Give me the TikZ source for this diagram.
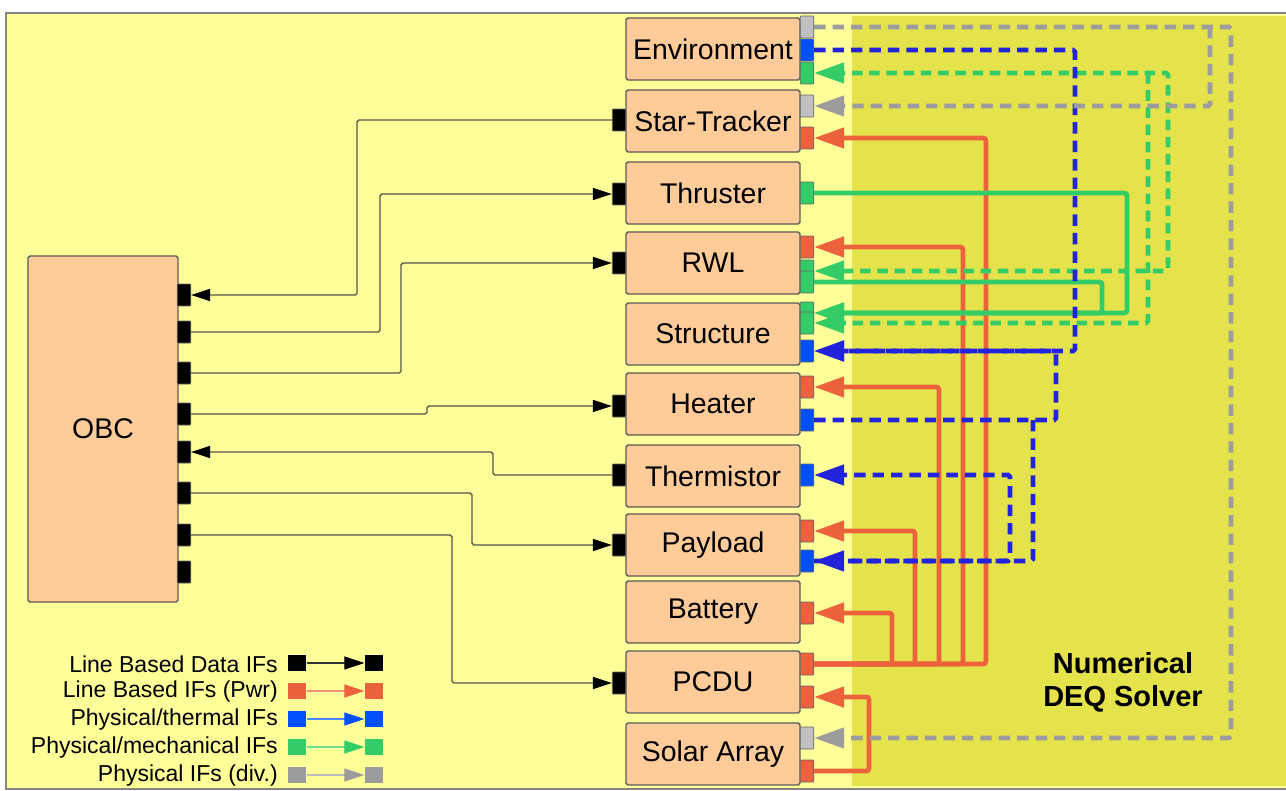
\documentclass[tikz,border=0pt]{standalone}
\usepackage{fontspec}
\setmainfont{Liberation Sans}
\usetikzlibrary{arrows.meta}
\definecolor{yelL}{HTML}{FFFF99}
\definecolor{yelD}{HTML}{E5E34B}
\definecolor{peach}{HTML}{FFCC99}
\definecolor{pwrc}{HTML}{EB623C}
\definecolor{thmc}{HTML}{2323DC}
\definecolor{thmp}{HTML}{0050FF}
\definecolor{mecc}{HTML}{33CC66}
\definecolor{divc}{HTML}{9C9C9C}
\definecolor{divp}{HTML}{C0C0C0}
\definecolor{datc}{HTML}{555548}
\definecolor{framec}{HTML}{858585}

\begin{document}
\begin{tikzpicture}[
  x=0.02cm, y=-0.02cm,
  font=\fontsize{16.2}{19}\selectfont,
  bx/.style  ={draw=black!65, fill=peach, line width=0.8pt, rounded corners=1pt,
               minimum width=3.48cm, minimum height=1.24cm, inner sep=0pt},
  prt/.style ={draw=black!60, line width=0.4pt, inner sep=0pt, rounded corners=0.5pt,
               minimum width=0.27cm, minimum height=0.44cm},
  pdt/.style ={prt, fill=black},
  ppw/.style ={prt, fill=pwrc},
  pth/.style ={prt, fill=thmp},
  pme/.style ={prt, fill=mecc},
  pdv/.style ={prt, fill=divp},
  bigtip/.tip={Triangle[length=6mm, width=4mm]},
  dat/.style ={datc, line width=0.8pt, rounded corners=1pt,
               -{Triangle[length=3.8mm, width=2.4mm, color=black]}},
  pw/.style  ={pwrc, line width=2.7pt, rounded corners=1.5pt, -bigtip},
  me/.style  ={mecc, line width=2.7pt, rounded corners=1.5pt, -bigtip},
  med/.style ={mecc, line width=2.6pt, rounded corners=1pt, dash pattern=on 6pt off 3.8pt, -bigtip},
  th/.style  ={thmc, line width=2.6pt, rounded corners=1pt, dash pattern=on 6.5pt off 4pt, -bigtip},
  dv/.style  ={divc, line width=2.6pt, rounded corners=1pt, dash pattern=on 6.5pt off 4pt, -bigtip},
  lsq/.style ={inner sep=0pt, minimum width=0.37cm, minimum height=0.32cm},
  lgt/.style ={anchor=east, font=\fontsize{13.1}{15}\selectfont}
]
\useasboundingbox (0,0) rectangle (1286,791);
% ---------- background ----------
\fill[white] (0,0) rectangle (1286,791);
\fill[yelL] (6,13) rectangle (1286,788);
\fill[yelD] (852,16) rectangle (1286,786);

% ---------- units ----------
\node[bx, minimum width=3cm, minimum height=6.92cm] (obc) at (103,429) {OBC};
\node[bx] (env) at (713,49)  {Environment};
\node[bx] (str) at (713,121) {Star-Tracker};
\node[bx] (thr) at (713,193) {Thruster};
\node[bx] (rwl) at (713,263) {RWL};
\node[bx] (stc) at (713,334) {Structure};
\node[bx] (hea) at (713,404) {Heater};
\node[bx] (ths) at (713,476) {Thermistor};
\node[bx] (pay) at (713,545) {Payload};
\node[bx] (bat) at (713,612) {Battery};
\node[bx] (pcd) at (713,682) {PCDU};
\node[bx] (sol) at (713,754) {Solar Array};

% ---------- data ports ----------
\node[pdt] (obc1) at (184,295) {};
\node[pdt] (obc2) at (184,332) {};
\node[pdt] (obc3) at (184,373) {};
\node[pdt] (obc4) at (184,414) {};
\node[pdt] (obc5) at (184,452) {};
\node[pdt] (obc6) at (184,493) {};
\node[pdt] (obc7) at (184,535) {};
\node[pdt] (obc8) at (184,572) {};
\node[pdt] (strL) at (619,120) {};
\node[pdt] (thrL) at (619,194) {};
\node[pdt] (rwlL) at (619,263) {};
\node[pdt] (heaL) at (619,406) {};
\node[pdt] (thsL) at (619,475) {};
\node[pdt] (payL) at (619,545) {};
\node[pdt] (pcdL) at (619,683) {};

% ---------- physical ports ----------
\node[pdv] (envD)  at (807,27)  {};
\node[pth] (envT)  at (807,50)  {};
\node[pme] (envM)  at (807,73)  {};
\node[pdv] (strD)  at (807,106) {};
\node[ppw] (strP)  at (807,138) {};
\node[pme] (thrM)  at (807,193) {};
\node[ppw] (rwlP)  at (807,247) {};
\node[pme] (rwlM1) at (807,271) {};
\node[pme] (rwlM2) at (807,282) {};
\node[pme] (stcM1) at (807,313) {};
\node[pme] (stcM2) at (807,323) {};
\node[pth] (stcT)  at (807,351) {};
\node[ppw] (heaP)  at (807,387) {};
\node[pth] (heaT)  at (807,420) {};
\node[pth] (thsT)  at (807,475) {};
\node[ppw] (payP)  at (807,531) {};
\node[pth] (payT)  at (807,561) {};
\node[ppw] (batP)  at (807,613) {};
\node[ppw] (pcdA)  at (807,664) {};
\node[ppw] (pcdB)  at (807,697) {};
\node[pdv] (solD)  at (807,738) {};
\node[ppw] (solP)  at (807,771) {};

% ---------- data lines ----------
\draw[dat] (strL.west) -- (strL.west -| 357,0) |- (obc1.east);
\draw[dat] (obc2.east) -- (obc2.east -| 380,0) |- (thrL.west);
\draw[dat] (obc3.east) -- (obc3.east -| 401,0) |- (rwlL.west);
\draw[dat] (obc4.east) -- (obc4.east -| 427,0) |- (heaL.west);
\draw[dat] (thsL.west) -- (thsL.west -| 493,0) |- (obc5.east);
\draw[dat] (obc6.east) -- (obc6.east -| 472,0) |- (payL.west);
\draw[dat] (obc7.east) -- (obc7.east -| 452,0) |- (pcdL.west);

% ---------- power ----------
\draw[pw] (pcdA.east) -- (pcdA.east -| 892,0) |- (batP.east);
\draw[pw] (pcdA.east) -- (pcdA.east -| 915,0) |- (payP.east);
\draw[pw] (pcdA.east) -- (pcdA.east -| 939,0) |- (heaP.east);
\draw[pw] (pcdA.east) -- (pcdA.east -| 963,0) |- (rwlP.east);
\draw[pw] (pcdA.east) -- (pcdA.east -| 986,0) |- (strP.east);
\draw[pw] (solP.east) -- (solP.east -| 869,0) |- (pcdB.east);

% ---------- mechanical ----------
\draw[me] (thrM.east) -- (thrM.east -| 1127,0) |- (stcM1.east);
\draw[me] (rwlM2.east) -- (rwlM2.east -| 1102,0) |- (stcM1.east);
\draw[med, bigtip-bigtip] (rwlM1.east) -- (rwlM1.east -| 1168,0) |- (envM.east);
\coordinate (mj) at (envM.east -| 1148,0);
\draw[med] (mj) |- (stcM2.east);

% ---------- thermal ----------
\draw[th] (envT.east) -- (envT.east -| 1075,0) |- (stcT.east);
\draw[th] (heaT.east) -- (heaT.east -| 1056,0) |- (stcT.east);
\coordinate (tj) at (heaT.east -| 1033,0);
\draw[th] (tj) |- (payT.east);
\draw[th] (payT.east) -- (payT.east -| 1010,0) |- (thsT.east);

% ---------- div. ----------
\draw[dv] (envD.east) -- (envD.east -| 1231,0) |- (solD.east);
\coordinate (dj) at (envD.east -| 1210,0);
\draw[dv] (dj) |- (strD.east);

\node[font=\fontsize{16.5}{18.7}\selectfont\bfseries, align=center] (deq) at (1123,682)
  {Numerical\\DEQ Solver};

% ---------- legend ----------
\node[lgt] (lt1) at (284,664) {Line Based Data IFs};
\node[lgt] (lt2) at (284,692) {Line Based IFs (Pwr)};
\node[lgt] (lt3) at (284,720) {Physical/thermal IFs};
\node[lgt] (lt4) at (284,748) {Physical/mechanical IFs};
\node[lgt] (lt5) at (284,776) {Physical IFs (div.)};
\node[lsq, fill=black] (la1) at (297,663) {};
\node[lsq, fill=black] (lb1) at (374,663) {};
\node[lsq, fill=pwrc]  (la2) at (297,691) {};
\node[lsq, fill=pwrc]  (lb2) at (374,691) {};
\node[lsq, fill=thmp]  (la3) at (297,719) {};
\node[lsq, fill=thmp]  (lb3) at (374,719) {};
\node[lsq, fill=mecc]  (la4) at (297,747) {};
\node[lsq, fill=mecc]  (lb4) at (374,747) {};
\node[lsq, fill=divc]  (la5) at (297,775) {};
\node[lsq, fill=divc]  (lb5) at (374,775) {};
\draw[black!80, line width=0.6pt, -{Triangle[length=4mm, width=2.6mm, color=black]}] (la1) -- (lb1);
\draw[pwrc!70, line width=0.6pt, -{Triangle[length=4mm, width=2.6mm, color=pwrc]}] (la2) -- (lb2);
\draw[thmp!70, line width=0.6pt, -{Triangle[length=4mm, width=2.6mm, color=thmp]}] (la3) -- (lb3);
\draw[mecc!70, line width=0.6pt, -{Triangle[length=4mm, width=2.6mm, color=mecc]}] (la4) -- (lb4);
\draw[divc!70, line width=0.6pt, -{Triangle[length=4mm, width=2.6mm, color=divc]}] (la5) -- (lb5);

% ---------- frame ----------
\draw[framec, line width=1.2pt] (1286,13) -- (6,13) -- (6,789) -- (1286,789);
\end{tikzpicture}
\end{document}
